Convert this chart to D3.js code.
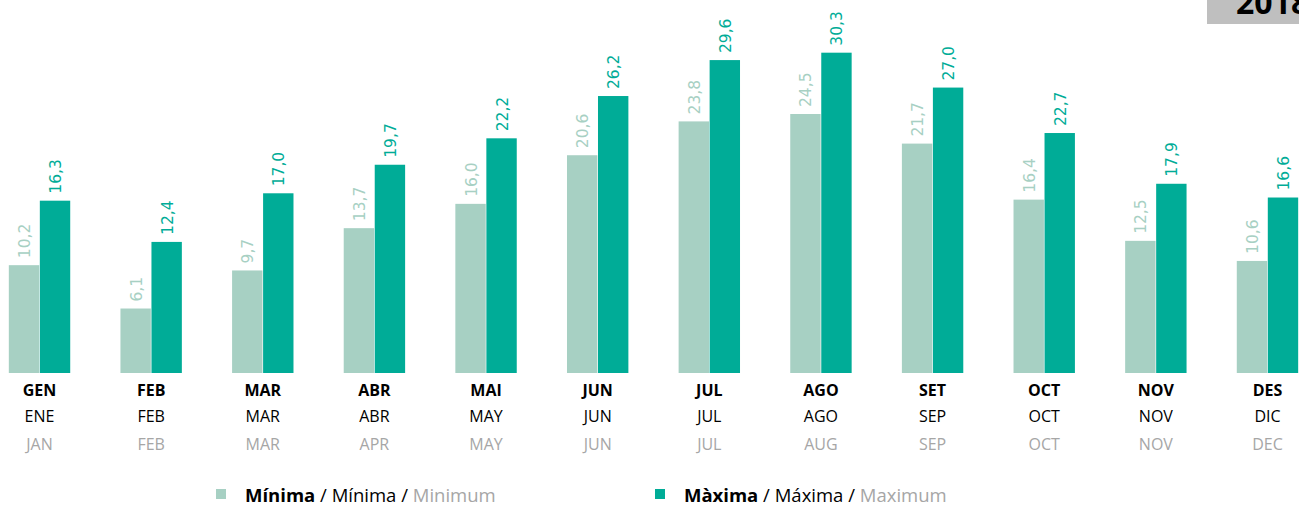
<!DOCTYPE html>
<html>
<head>
<meta charset="utf-8">
<script src="https://cdn.jsdelivr.net/npm/d3@7"></script>
<style>
  body { margin: 0; background: #fff; overflow: hidden; }
  svg { display: block; font-family: "Open Sans", sans-serif; }
</style>
</head>
<body>
<script>
const monthsCa = ["GEN", "FEB", "MAR", "ABR", "MAI", "JUN", "JUL", "AGO", "SET", "OCT", "NOV", "DES"];
const monthsEs = ["ENE", "FEB", "MAR", "ABR", "MAY", "JUN", "JUL", "AGO", "SEP", "OCT", "NOV", "DIC"];
const monthsEn = ["JAN", "FEB", "MAR", "APR", "MAY", "JUN", "JUL", "AUG", "SEP", "OCT", "NOV", "DEC"];
const minima = [10.2, 6.1, 9.7, 13.7, 16.0, 20.6, 23.8, 24.5, 21.7, 16.4, 12.5, 10.6];
const maxima = [16.3, 12.4, 17.0, 19.7, 22.2, 26.2, 29.6, 30.3, 27.0, 22.7, 17.9, 16.6];
const seriesNames = ["min", "max"];

let width = 1299;
let height = 506;
let baseY = 373;

const svg = d3.select("body").append("svg")
    .attr("width", width)
    .attr("height", height);

// category bands
const x = d3.scaleBand()
    .domain(monthsCa)
    .range([-16.3, 1323.3])
    .paddingInner(0.45)
    .paddingOuter(0.225);

const xSub = d3.scaleBand()
    .domain(seriesNames)
    .range([0, x.bandwidth()])
    .paddingInner(0.02);

const y = d3.scaleLinear()
    .domain([0, 35])
    .range([baseY, 3]);

const color = d3.scaleOrdinal()
    .domain(seriesNames)
    .range(["#a7d0c3", "#00ac97"]);

const rows = monthsCa.map((m, i) => ({ m, min: minima[i], max: maxima[i] }));
const fmt = v => v.toFixed(1).replace(".", ",");

const groups = svg.selectAll("g.month")
    .data(rows)
    .join("g")
    .attr("class", "month")
    .attr("transform", d => `translate(${x(d.m)},0)`);

seriesNames.forEach(s => {
    groups.append("rect")
        .attr("x", xSub(s))
        .attr("y", d => y(d[s]))
        .attr("width", xSub.bandwidth())
        .attr("height", d => baseY - y(d[s]))
        .attr("fill", color(s));

    // value labels, rotated
    groups.append("text")
        .attr("transform", d => `translate(${xSub(s) + xSub.bandwidth() / 2 + 6},${y(d[s]) - 7}) rotate(-90)`)
        .attr("font-family", "'DejaVu Sans', Verdana, sans-serif")
        .attr("font-size", "15.5px")
        .attr("fill", color(s))
        .text(d => fmt(d[s]));
});

// month labels (three languages)
const labelRows = [
    { names: monthsCa, y: 396, weight: "bold", fill: "#000" },
    { names: monthsEs, y: 422, weight: "normal", fill: "#000" },
    { names: monthsEn, y: 450, weight: "normal", fill: "#a6a6a6" }
];
labelRows.forEach(r => {
    svg.append("g").selectAll("text")
        .data(r.names)
        .join("text")
        .attr("x", (d, i) => x(monthsCa[i]) + x.bandwidth() / 2)
        .attr("y", r.y)
        .attr("text-anchor", "middle")
        .attr("font-size", "16px")
        .attr("font-weight", r.weight)
        .attr("fill", r.fill)
        .text(d => d);
});

// legend
const legendItems = [
    { s: "min", x: 216, parts: ["Mínima", "Mínima", "Minimum"] },
    { s: "max", x: 655, parts: ["Màxima", "Máxima", "Maximum"] }
];
legendItems.forEach(l => {
    svg.append("rect")
        .attr("x", l.x)
        .attr("y", 489)
        .attr("width", 10)
        .attr("height", 10)
        .attr("fill", color(l.s));
    const t = svg.append("text")
        .attr("x", l.x + 29)
        .attr("y", 502)
        .attr("font-size", "18.5px");
    t.append("tspan").attr("font-weight", "bold").attr("fill", "#000").text(l.parts[0]);
    t.append("tspan").attr("fill", "#000").text(" / " + l.parts[1] + " / ");
    t.append("tspan").attr("fill", "#a6a6a6").text(l.parts[2]);
});

// year tag (cut at the top-right edge, as in the original)
svg.append("rect")
    .attr("x", 1207)
    .attr("y", 0)
    .attr("width", 92)
    .attr("height", 24)
    .attr("fill", "#bfbfbf");
svg.append("text")
    .attr("x", 1236)
    .attr("y", 14)
    .attr("font-size", "32px")
    .attr("font-weight", "bold")
    .attr("fill", "#000")
    .text("2018");
</script>
</body>
</html>
